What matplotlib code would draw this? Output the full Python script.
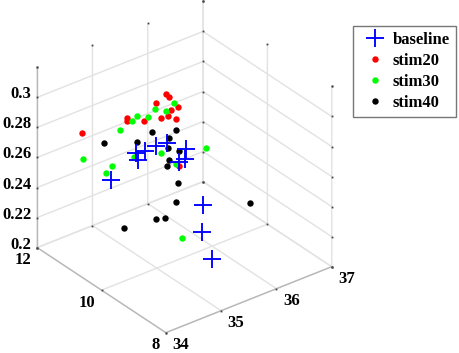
import matplotlib
matplotlib.use("Agg")
import matplotlib.pyplot as plt
from mpl_toolkits.mplot3d import proj3d

plt.rcParams['font.family'] = ['Liberation Serif', 'DejaVu Serif']
plt.rcParams['font.weight'] = 'bold'

base_x = [34.76,35.20,35.25,35.36,35.56,35.76,36.11,36.10,35.98,35.26,35.23,35.41]
base_y = [11,11,11,11,11,11,11,11,11,9,9,9]
base_z = [.2483,.2593,.2544,.2583,.2589,.2583,.2491,.2423,.2420,.2521,.2348,.2144]

s20_x = [34.22,35.75,35.81,35.57,35.96,35.83,35.66,35.78,35.93,35.04,35.05,35.35,35.99]
s20_y = [11]*13
s20_z = [.2870,.2908,.2880,.2876,.2792,.2787,.2760,.2754,.2716,.2850,.2832,.2786,.2394]

s30_x = [35.89,35.55,35.75,35.43,35.23,35.14,34.92,34.25,34.77,34.67,35.17,35.65,35.92,36.47,34.88]
s30_y = [11,11,11,11,11,11,11,11,11,11,11,11,11,11,9]
s30_z = [.2826,.2838,.2794,.2805,.2838,.2816,.2793,.2695,.2575,.2542,.2572,.2530,.2416,.2442,.2360]

s40_x = [35.49,35.93,35.81,34.62,35.22,35.78,35.98,35.80,35.76,35.96,35.92,36.11,35.56,35.73,34.98]
s40_y = [11,11,11,11,11,11,11,11,11,11,11,9,11,11,11]
s40_z = [.2690,.2639,.2608,.2746,.2668,.2546,.2498,.2464,.2427,.2284,.2166,.2416,.2104,.2084,.2131]

x_ticks = [34,35,36,37]
y_ticks = [8,10,12]
z_ticks = [.2,.22,.24,.26,.28,.3]
z_labels = ['0.2','0.22','0.24','0.26','0.28','0.3']
x_lim = (34, 37)
y_lim = (8, 12)
z_lim = (.2, .32)

W, H = 459, 353
S = 353
fig = plt.figure(figsize=(W/100, H/100), dpi=100)
ax = fig.add_axes([3.2/W, 4.7/H, S/W, S/H], projection='3d', proj_type='ortho',
                  computed_zorder=False)
ax.view_init(elev=30.85, azim=-127.8)
ax.set_xlim(*x_lim, view_margin=0)
ax.set_ylim(*y_lim, view_margin=0)
ax.set_zlim(*z_lim, view_margin=0)
ax.set_box_aspect((1, 1, 1))
ax.patch.set_alpha(0)

ax.plot(s20_x, s20_y, s20_z, 'o', color='#ff0000', ms=4.6, mew=0, zorder=2, label='stim20')
ax.plot(s30_x, s30_y, s30_z, 'o', color='#00ff00', ms=4.6, mew=0, zorder=3, label='stim30')
ax.plot(s40_x, s40_y, s40_z, 'o', color='#000000', ms=4.6, mew=0, zorder=4, label='stim40')
ax.plot(base_x, base_y, base_z, '+', color='#0000ff', ms=12.5, mew=1.35, zorder=5, label='baseline')

ax.set_xticks(x_ticks)
ax.set_yticks(y_ticks)
ax.set_zticks(z_ticks)
for a in (ax.xaxis, ax.yaxis, ax.zaxis):
    a.set_pane_color((1, 1, 1, 0))
    a.pane.set_edgecolor('#dcdcdc')
    a.line.set_color('#b8b8b8')
    a.line.set_linewidth(1.0)
    a._axinfo['grid']['color'] = '#e2e2e2'
    a._axinfo['grid']['linewidth'] = 1.0
    a._axinfo['tick']['inward_factor'] = 0.0
    a._axinfo['tick']['outward_factor'] = 0.0
    a.set_tick_params(labelbottom=False, labeltop=False)

# tiny tick marks on the box edges, as in the reference
tick_style = dict(marker='s', ms=1.3, mew=0, ls='none', color='#444444', zorder=1.5)
for yv, zv in ((y_lim[0], z_lim[0]), (y_lim[1], z_lim[0]), (y_lim[1], z_lim[1])):
    ax.plot(x_ticks, [yv]*len(x_ticks), [zv]*len(x_ticks), **tick_style)
for xv, zv in ((x_lim[0], z_lim[0]), (x_lim[1], z_lim[0]), (x_lim[1], z_lim[1])):
    ax.plot([xv]*len(y_ticks), y_ticks, [zv]*len(y_ticks), **tick_style)
for xv, yv in ((x_lim[0], y_lim[1]), (x_lim[1], y_lim[1]), (x_lim[1], y_lim[0])):
    ax.plot([xv]*(len(z_ticks)+1), [yv]*(len(z_ticks)+1), z_ticks+[z_lim[1]], **tick_style)

M = ax.get_proj()
def label(x, y, z, s, dx, dy, ha):
    px, py, _ = proj3d.proj_transform(x, y, z, M)
    ax.annotate(s, xy=(px, py), xycoords='data', xytext=(dx, dy), textcoords='offset pixels',
                ha=ha, va='center', fontsize=12, color='black', annotation_clip=False, zorder=6)

for v in x_ticks:
    label(v, y_lim[0], z_lim[0], str(v), 15, -12.5, 'center')
for v in y_ticks:
    label(x_lim[0], v, z_lim[0], str(v), -6, -12.5, 'right')
for v, s in zip(z_ticks, z_labels):
    label(x_lim[0], y_lim[1], v, s, -5.5, 3, 'right')

h, l = ax.get_legend_handles_labels()
order = [3, 0, 1, 2]
fig.legend([h[i] for i in order], [l[i] for i in order], loc='upper left',
           bbox_to_anchor=(353/W, 1-26/H), bbox_transform=fig.transFigure,
           fontsize=12, frameon=True, fancybox=False, edgecolor='#777777', framealpha=1,
           borderaxespad=0, borderpad=.36, labelspacing=.3, handlelength=1.95, handletextpad=.06)
fig.savefig('out.png', dpi=100)
